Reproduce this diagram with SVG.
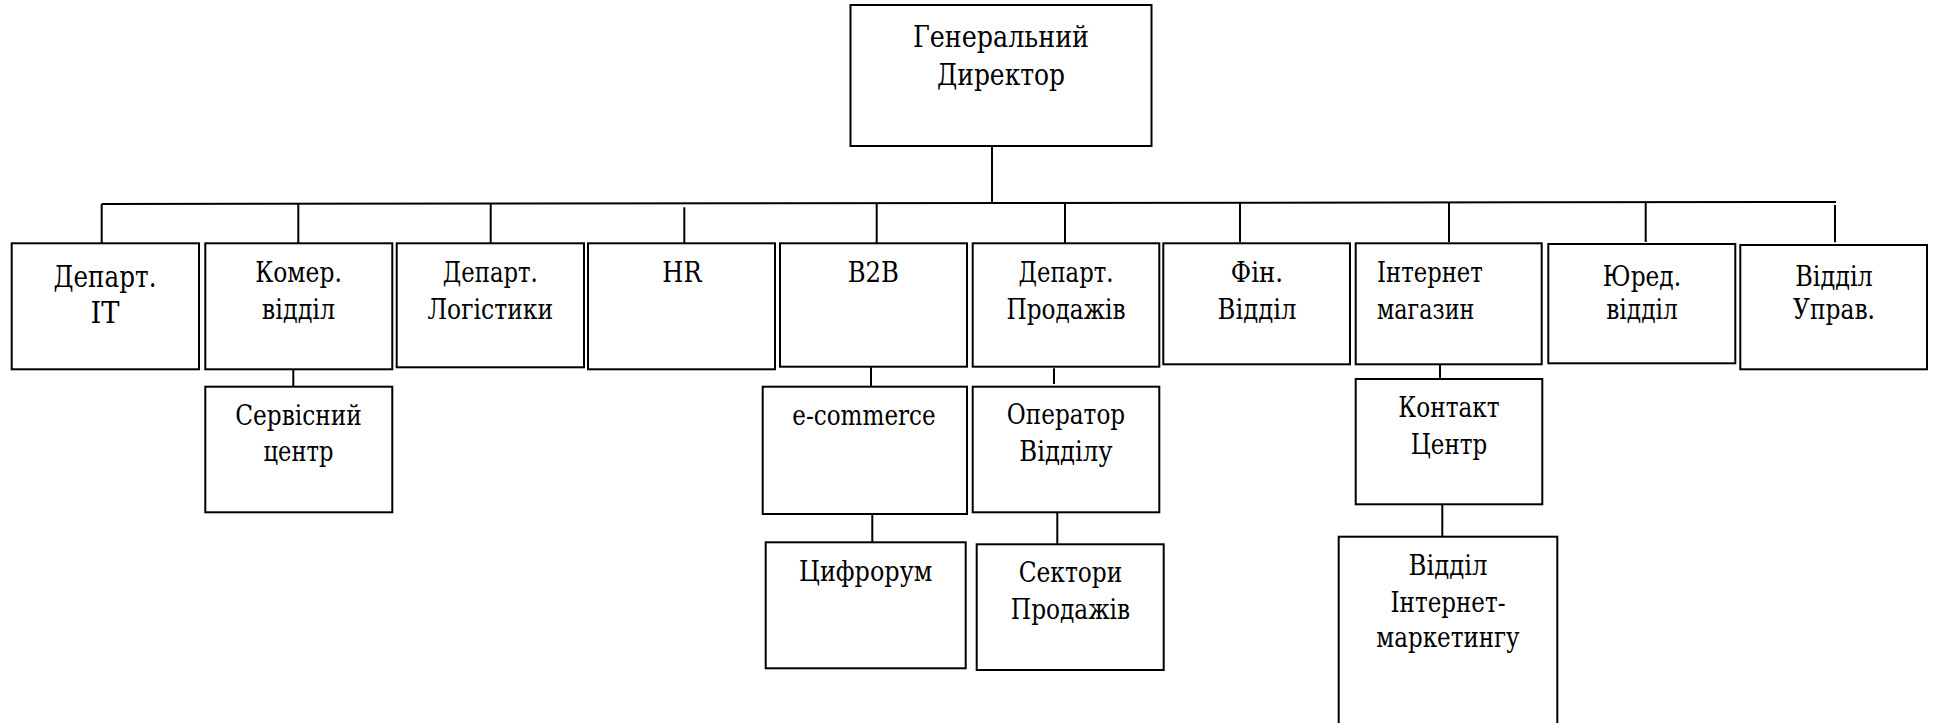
<svg xmlns="http://www.w3.org/2000/svg" width="1933" height="723" viewBox="0 0 1933 723">
<style>
.box{fill:#fff;stroke:#000;stroke-width:2}
.ln{stroke:#000;stroke-width:2;fill:none}
text{font-family:'DejaVu Serif','Liberation Serif','Times New Roman',serif;font-size:27px;fill:#000;text-anchor:middle}
.big{font-size:29.5px}
.it{font-size:29px}
.left{text-anchor:start}
</style>
<rect width="1933" height="723" fill="#fff"/>
<g id="connectors">
<line class="ln" x1="992" y1="146" x2="992" y2="203"/>
<line class="ln" x1="101.7" y1="204" x2="1836" y2="202"/>
<line class="ln" x1="101.7" y1="204" x2="101.7" y2="243.3"/>
<line class="ln" x1="298.3" y1="204" x2="298.3" y2="243.3"/>
<line class="ln" x1="490.7" y1="204" x2="490.7" y2="243.3"/>
<line class="ln" x1="684.3" y1="207.3" x2="684.3" y2="243.3"/>
<line class="ln" x1="876.7" y1="203.5" x2="876.7" y2="243.3"/>
<line class="ln" x1="1065" y1="203.3" x2="1065" y2="243.3"/>
<line class="ln" x1="1240" y1="203" x2="1240" y2="242"/>
<line class="ln" x1="1449" y1="202.7" x2="1449" y2="242"/>
<line class="ln" x1="1645.7" y1="202.5" x2="1645.7" y2="242"/>
<line class="ln" x1="1835" y1="205" x2="1835" y2="242.3"/>
<line class="ln" x1="293.3" y1="369.3" x2="293.3" y2="386.7"/>
<line class="ln" x1="871" y1="366.7" x2="871" y2="386.7"/>
<line class="ln" x1="1054" y1="368.3" x2="1054" y2="384"/>
<line class="ln" x1="872.3" y1="512.3" x2="872.3" y2="542.3"/>
<line class="ln" x1="1057.3" y1="512.3" x2="1057.3" y2="544.3"/>
<line class="ln" x1="1440" y1="364.3" x2="1440" y2="379"/>
<line class="ln" x1="1442.3" y1="504.3" x2="1442.3" y2="536.7"/>
</g>
<g id="gen-director"><rect class="box" x="850.5" y="5" width="301" height="141"/><text class="big" x="1001" y="47" textLength="176" lengthAdjust="spacingAndGlyphs">Генеральний</text><text class="big" x="1001" y="85" textLength="128" lengthAdjust="spacingAndGlyphs">Директор</text></g>
<g id="dep-it"><rect class="box" x="11.7" y="243.3" width="187.3" height="126"/><text class="it" x="105" y="286.5" textLength="103" lengthAdjust="spacingAndGlyphs">Департ.</text><text class="it" x="105" y="323.3" textLength="29" lengthAdjust="spacingAndGlyphs">IT</text></g>
<g id="komer"><rect class="box" x="205.3" y="243.3" width="187" height="126"/><text x="298.5" y="282" textLength="86.7" lengthAdjust="spacingAndGlyphs">Комер.</text><text x="298.5" y="319" textLength="73.3" lengthAdjust="spacingAndGlyphs">відділ</text></g>
<g id="logistics"><rect class="box" x="396.7" y="243.3" width="187.3" height="124"/><text x="490.3" y="282" textLength="95" lengthAdjust="spacingAndGlyphs">Департ.</text><text x="490.3" y="318.5" textLength="125.5" lengthAdjust="spacingAndGlyphs">Логістики</text></g>
<g id="hr"><rect class="box" x="588" y="243.3" width="187" height="126"/><text x="682" y="282" textLength="39.3" lengthAdjust="spacingAndGlyphs">HR</text></g>
<g id="b2b"><rect class="box" x="780" y="243.3" width="187" height="123.4"/><text x="873.3" y="282" textLength="51.3" lengthAdjust="spacingAndGlyphs">B2B</text></g>
<g id="sales"><rect class="box" x="972.7" y="243.3" width="186.6" height="123.4"/><text x="1066" y="282" textLength="95" lengthAdjust="spacingAndGlyphs">Департ.</text><text x="1066" y="318.5" textLength="119" lengthAdjust="spacingAndGlyphs">Продажів</text></g>
<g id="fin"><rect class="box" x="1163.3" y="243.3" width="186.7" height="121"/><text x="1257" y="282" textLength="52.3" lengthAdjust="spacingAndGlyphs">Фін.</text><text x="1257" y="318.5" textLength="79" lengthAdjust="spacingAndGlyphs">Відділ</text></g>
<g id="eshop"><rect class="box" x="1355.7" y="243.3" width="186" height="121"/><text class="left" x="1377" y="282" textLength="105.9" lengthAdjust="spacingAndGlyphs">Інтернет</text><text class="left" x="1377" y="318.5" textLength="97.4" lengthAdjust="spacingAndGlyphs">магазин</text></g>
<g id="legal"><rect class="box" x="1548.3" y="244" width="187" height="119.3"/><text x="1642" y="285.5" textLength="78.3" lengthAdjust="spacingAndGlyphs">Юред.</text><text x="1642" y="319.3" textLength="71.7" lengthAdjust="spacingAndGlyphs">відділ</text></g>
<g id="mgmt"><rect class="box" x="1740.3" y="245" width="186.7" height="124.3"/><text x="1834" y="285.5" textLength="77.5" lengthAdjust="spacingAndGlyphs">Відділ</text><text x="1834" y="319.3" textLength="82" lengthAdjust="spacingAndGlyphs">Управ.</text></g>
<g id="service"><rect class="box" x="205.3" y="386.7" width="187" height="125.6"/><text x="298.5" y="425" textLength="126.7" lengthAdjust="spacingAndGlyphs">Сервісний</text><text x="298.5" y="461" textLength="70" lengthAdjust="spacingAndGlyphs">центр</text></g>
<g id="ecommerce"><rect class="box" x="762.7" y="386.7" width="204.3" height="127.3"/><text x="864" y="425" textLength="143.3" lengthAdjust="spacingAndGlyphs">e-commerce</text></g>
<g id="operator"><rect class="box" x="972.7" y="386.7" width="186.6" height="125.6"/><text x="1066" y="424" textLength="118.3" lengthAdjust="spacingAndGlyphs">Оператор</text><text x="1066" y="461" textLength="93.3" lengthAdjust="spacingAndGlyphs">Відділу</text></g>
<g id="contact"><rect class="box" x="1355.7" y="379" width="186.6" height="125.3"/><text x="1449" y="417" textLength="101.4" lengthAdjust="spacingAndGlyphs">Контакт</text><text x="1449" y="453.5" textLength="76.4" lengthAdjust="spacingAndGlyphs">Центр</text></g>
<g id="cyfrorum"><rect class="box" x="765.7" y="542.3" width="200" height="126"/><text x="865.7" y="581" textLength="133.3" lengthAdjust="spacingAndGlyphs">Цифрорум</text></g>
<g id="sectors"><rect class="box" x="976.7" y="544.3" width="187" height="125.7"/><text x="1070.5" y="582" textLength="103.7" lengthAdjust="spacingAndGlyphs">Сектори</text><text x="1070.5" y="618.5" textLength="119.3" lengthAdjust="spacingAndGlyphs">Продажів</text></g>
<g id="marketing"><rect class="box" x="1338.7" y="536.7" width="218.6" height="200"/><text x="1448" y="575" textLength="79" lengthAdjust="spacingAndGlyphs">Відділ</text><text x="1448" y="611.5" textLength="115" lengthAdjust="spacingAndGlyphs">Інтернет-</text><text x="1448" y="647" textLength="143.3" lengthAdjust="spacingAndGlyphs">маркетингу</text></g>
</svg>
